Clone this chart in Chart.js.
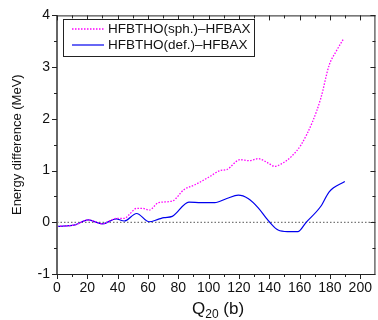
<!DOCTYPE html>
<html><head><meta charset="utf-8">
<script src="https://cdn.jsdelivr.net/npm/chart.js@4/dist/chart.umd.min.js"></script>
<style>html,body{margin:0;padding:0;background:#fff}#wrap{width:378px;height:320px}</style>
</head><body><div id="wrap"><canvas id="c" width="378" height="320"></canvas></div>
<script>
const sphQ = [0, 12, 20.5, 30, 35, 39, 44.4, 48, 52.5, 56.4, 60.8, 67, 76, 83.7, 91.3, 100, 107.6, 112, 120.7, 127, 132.7, 139, 143.6, 148, 154.5, 161, 168.6, 174, 179.5, 184, 189];
const sphE = [-0.08, -0.05, 0.045, -0.03, 0.03, 0.075, 0.075, 0.16, 0.27, 0.27, 0.235, 0.38, 0.41, 0.63, 0.73, 0.87, 1.0, 1.02, 1.21, 1.19, 1.23, 1.15, 1.08, 1.13, 1.27, 1.5, 1.95, 2.4, 3.04, 3.3, 3.55];
const defQ = [0, 11.8, 20.5, 30, 39, 44.4, 52.5, 60.8, 67, 70.6, 76, 87, 95, 104, 112, 119.6, 126, 132.7, 138, 140.3, 145.8, 152, 158.8, 164.3, 174, 179.5, 189.8];
const defE = [-0.08, -0.05, 0.045, -0.03, 0.065, 0.025, 0.17, 0.01, 0.06, 0.09, 0.115, 0.39, 0.38, 0.38, 0.46, 0.525, 0.46, 0.28, 0.08, 0.0, -0.15, -0.18, -0.18, 0.0, 0.31, 0.59, 0.79];
const labels = ['HFBTHO(sph.)\u2013HFBAX', 'HFBTHO(def.)\u2013HFBAX'];
const xTicks = [0, 20, 40, 60, 80, 100, 120, 140, 160, 180, 200];
const yTicks = [-1, 0, 1, 2, 3, 4];
const xRange = [0, 210];
const yRange = [-1, 4];

const toPts = (q, e) => q.map((v, i) => ({x: v, y: e[i]}));
const FONT = '"Liberation Sans", Arial, sans-serif';

const framePlugin = {
  id: 'frame',
  beforeDatasetsDraw(chart) {
    const {ctx, chartArea: a, scales: {x, y}} = chart;
    ctx.save();
    ctx.strokeStyle = '#777';
    ctx.lineWidth = 1.2;
    ctx.setLineDash([1.5, 2]);
    const y0 = y.getPixelForValue(0);
    ctx.beginPath(); ctx.moveTo(a.left, y0); ctx.lineTo(a.right, y0); ctx.stroke();
    ctx.restore();
  },
  afterDraw(chart) {
    const {ctx, chartArea: a, scales: {x, y}} = chart;
    ctx.save();
    ctx.strokeStyle = '#222'; ctx.lineWidth = 1;
    ctx.beginPath();
    ctx.moveTo(a.left, a.top + 0.5); ctx.lineTo(a.right, a.top + 0.5);
    ctx.moveTo(a.right - 0.5, a.top); ctx.lineTo(a.right - 0.5, a.bottom);
    ctx.moveTo(a.left, a.bottom + 0.5); ctx.lineTo(a.right, a.bottom + 0.5);
    ctx.stroke();
    ctx.strokeStyle = '#666'; ctx.lineWidth = 2;
    ctx.beginPath(); ctx.moveTo(a.left, a.top); ctx.lineTo(a.left, a.bottom + 1); ctx.stroke();
    ctx.strokeStyle = '#222'; ctx.lineWidth = 1;
    ctx.beginPath();
    for (let v = xRange[0]; v <= 200; v += 10) {
      const px = Math.round(x.getPixelForValue(v)) + 0.5;
      const major = v % 20 === 0;
      const L = major ? 5 : 3;
      ctx.moveTo(px, a.bottom); ctx.lineTo(px, a.bottom + L);
      ctx.moveTo(px, a.top); ctx.lineTo(px, a.top + L);
    }
    for (let v = yRange[0]; v <= yRange[1] + 1e-9; v += 0.5) {
      const py = Math.round(y.getPixelForValue(v)) + 0.5;
      const major = Math.abs(v - Math.round(v)) < 1e-9;
      const L = major ? 5 : 3;
      ctx.moveTo(a.left, py); ctx.lineTo(a.left - L, py);
      ctx.moveTo(a.right, py); ctx.lineTo(a.right - L, py);
    }
    ctx.stroke();
    ctx.fillStyle = '#111';
    ctx.textBaseline = 'alphabetic';
    ctx.textAlign = 'left';
    const tx = 192, ty = 314;
    ctx.font = '17px ' + FONT;
    ctx.fillText('Q', tx, ty);
    let w = ctx.measureText('Q').width;
    ctx.font = '12px ' + FONT;
    ctx.fillText('20', tx + w, ty + 4);
    w += ctx.measureText('20').width;
    ctx.font = '17px ' + FONT;
    ctx.fillText(' (b)', tx + w, ty);
    const lx = 63, ly = 19, lw = 191, lh = 37;
    ctx.fillStyle = '#fff';
    ctx.fillRect(lx, ly, lw, lh);
    ctx.strokeStyle = '#222'; ctx.lineWidth = 1;
    ctx.strokeRect(lx + 0.5, ly + 0.5, lw, lh);
    ctx.font = '13.5px ' + FONT;
    ctx.textBaseline = 'middle';
    chart.data.datasets.forEach((ds, i) => {
      const yy = ly + 10 + i * 16;
      ctx.strokeStyle = ds.borderColor; ctx.lineWidth = ds.borderWidth;
      ctx.setLineDash(ds.borderDash || []);
      ctx.beginPath(); ctx.moveTo(lx + 9, yy); ctx.lineTo(lx + 41, yy); ctx.stroke();
      ctx.setLineDash([]);
      ctx.fillStyle = '#111';
      ctx.fillText(ds.label, lx + 45, yy);
    });
    ctx.restore();
  }
};

new Chart(document.getElementById('c'), {
  type: 'scatter',
  data: {
    datasets: [
      {label: labels[0], data: toPts(sphQ, sphE), showLine: true, borderColor: '#f0f', borderWidth: 1.3, borderDash: [1.5, 1.5], pointRadius: 0, tension: 0.4, cubicInterpolationMode: 'monotone', fill: false},
      {label: labels[1], data: toPts(defQ, defE), showLine: true, borderColor: '#0000ee', borderWidth: 1.2, pointRadius: 0, tension: 0.4, cubicInterpolationMode: 'monotone', fill: false}
    ]
  },
  options: {
    responsive: false, animation: false, devicePixelRatio: 1,
    layout: {padding: {top: 14, right: 1, left: 10, bottom: 0}},
    plugins: {legend: {display: false}, tooltip: {enabled: false}},
    scales: {
      x: {type: 'linear', min: xRange[0], max: xRange[1],
        afterFit: s => { s.height = 46; },
        afterBuildTicks: s => { s.ticks = xTicks.map(v => ({value: v})); },
        grid: {display: false, drawTicks: false}, border: {display: false},
        ticks: {color: '#111', font: {family: FONT, size: 14}, padding: 6, maxRotation: 0}},
      y: {type: 'linear', min: yRange[0], max: yRange[1],
        afterFit: s => { s.width = 47; },
        afterBuildTicks: s => { s.ticks = yTicks.map(v => ({value: v})); },
        grid: {display: false, drawTicks: false}, border: {display: false},
        title: {display: true, text: 'Energy difference (MeV)', color: '#111', font: {family: FONT, size: 13}, padding: {top: 0, bottom: 4}},
        ticks: {color: '#111', font: {family: FONT, size: 14}, padding: 7}}
    }
  },
  plugins: [framePlugin]
});
</script></body></html>
